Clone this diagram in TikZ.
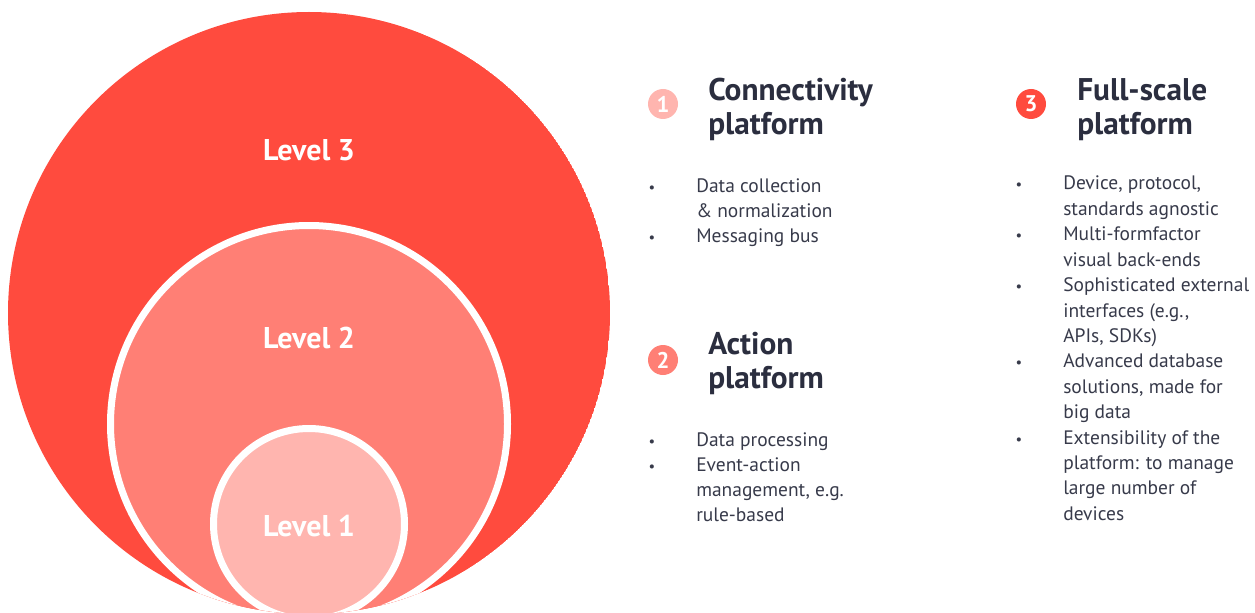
\documentclass[tikz,border=0pt]{standalone}
\usepackage{fontspec}
\setmainfont{PT Sans}
\newlength{\du}
\setlength{\du}{0.75pt}
\definecolor{lvlthree}{RGB}{255,75,62}
\definecolor{lvltwo}{RGB}{255,127,117}
\definecolor{lvlone}{RGB}{255,181,175}
\definecolor{headcolor}{RGB}{43,46,63}
\definecolor{bodycolor}{RGB}{55,58,74}
\tikzset{
  lvlring/.style={circle, draw=white, line width=7\du, inner sep=0pt},
  lvltext/.style={anchor=base, inner sep=0pt, text=white, font=\fontsize{22.5}{25}\selectfont\bfseries},
  numdot/.style={circle, inner sep=0pt, minimum size=30\du, text=white, font=\fontsize{17}{17}\selectfont\bfseries},
  headtext/.style={anchor=base west, align=left, inner sep=0pt, text=headcolor, font=\fontsize{23.5}{25.5}\selectfont\bfseries},
  itemtext/.style={anchor=base west, align=left, inner sep=0pt, text=bodycolor, font=\fontsize{14.6}{18.75}\selectfont},
  itemtextw/.style={itemtext, font=\fontsize{14.6}{19.05}\selectfont},
  itembullet/.style={anchor=base, inner sep=0pt, text=bodycolor, font=\fontsize{11}{18.75}\selectfont},
}

\begin{document}
\begin{tikzpicture}
\pgftransformxscale{1.000000}
\pgftransformyscale{-1.000000}
\useasboundingbox (0\du,0\du) rectangle (1255\du,613\du);
% nested levels, cut by the outer circle
\begin{scope}
\clip (309\du,313\du) circle (301\du);
\fill[lvlthree] (309\du,313\du) circle (301\du);
\node[lvlring, fill=lvltwo, minimum size=397\du] (lvl2) at (309\du,424\du) {};
\node[lvlring, fill=lvlone, minimum size=191\du] (lvl1) at (309\du,524\du) {};
\end{scope}
\node[lvltext] (lvl3txt) at (309\du,161\du) {Level 3};
\node[lvltext] (lvl2txt) at (309\du,348\du) {Level 2};
\node[lvltext] (lvl1txt) at (309\du,536\du) {Level 1};

% platform headings (base = last line)
\node[numdot, fill=lvlone] (num1) at (663\du,104\du) {1};
\node[headtext] (head1) at (708\du,135\du) {Connectivity\\platform};
\node[numdot, fill=lvltwo] (num2) at (663\du,360\du) {2};
\node[headtext] (head2) at (708\du,388\du) {Action\\platform};
\node[numdot, fill=lvlthree] (num3) at (1031\du,104\du) {3};
\node[headtext] (head3) at (1077\du,135\du) {Full-scale\\platform};

% level 1 items
\node[itembullet] (dot1a) at (652\du,192\du) {\textbullet};
\node[itemtext] (item1a) at (696\du,217\du) {Data collection\\\& normalization};
\node[itembullet] (dot1b) at (652\du,242\du) {\textbullet};
\node[itemtext] (item1b) at (696\du,242\du) {Messaging bus};

% level 2 items
\node[itembullet] (dot2a) at (652\du,446\du) {\textbullet};
\node[itemtext] (item2a) at (696\du,446\du) {Data processing};
\node[itembullet] (dot2b) at (652\du,471\du) {\textbullet};
\node[itemtext] (item2b) at (696\du,521\du) {Event-action\\management, e.g.\\rule-based};

% level 3 items
\node[itembullet] (dot3a) at (1019\du,190\du) {\textbullet};
\node[itemtextw] (item3a) at (1063\du,215.4\du) {Device, protocol,\\standards agnostic};
\node[itembullet] (dot3b) at (1019\du,240.8\du) {\textbullet};
\node[itemtextw] (item3b) at (1063\du,266.2\du) {Multi-formfactor\\visual back-ends};
\node[itembullet] (dot3c) at (1019\du,291.6\du) {\textbullet};
\node[itemtextw] (item3c) at (1063\du,342.4\du) {Sophisticated external\\interfaces (e.g.,\\APIs, SDKs)};
\node[itembullet] (dot3d) at (1019\du,367.8\du) {\textbullet};
\node[itemtextw] (item3d) at (1063\du,418.6\du) {Advanced database\\solutions, made for\\big data};
\node[itembullet] (dot3e) at (1019\du,444\du) {\textbullet};
\node[itemtextw] (item3e) at (1063\du,520.2\du) {Extensibility of the\\platform: to manage\\large number of\\devices};
\end{tikzpicture}
\end{document}
